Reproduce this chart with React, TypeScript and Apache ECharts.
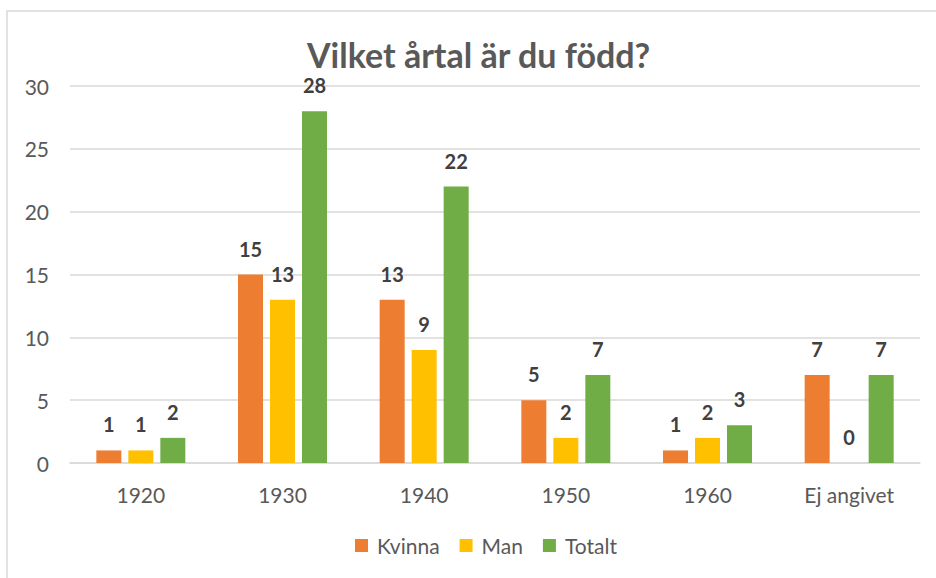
import React, { useEffect, useRef } from "react";
import * as echarts from "echarts";

const categories = ["1920", "1930", "1940", "1950", "1960", "Ej angivet"];
const kvinna = [1, 15, 13, 5, 1, 7];
const man = [1, 13, 9, 2, 2, 0];
const totalt = [2, 28, 22, 7, 3, 7];
const titleText = "Vilket årtal är du född?";

const FONT = "Lato";

export default function App() {
  const ref = useRef<HTMLDivElement>(null);
  useEffect(() => {
    if (!ref.current) return;
    const chart = echarts.init(ref.current, undefined, { renderer: "svg" });
    const label = {
      show: true,
      position: "top",
      distance: 16,
      fontFamily: FONT,
      fontSize: 20,
      fontWeight: "bold",
      color: "#404040",
    };
    const mk = (name: string, data: number[], color: string) => ({
      name,
      type: "bar",
      data,
      barWidth: 25,
      barGap: "28%",
      itemStyle: { color },
      label,
    });
    chart.setOption({
      animation: false,
      backgroundColor: "#ffffff",
      title: {
        text: titleText,
        left: 302,
        top: 32,
        textStyle: { fontFamily: FONT, fontSize: 34, fontWeight: "bold", color: "#595959" },
      },
      legend: {
        bottom: 17,
        left: 350,
        itemWidth: 13,
        itemHeight: 13,
        itemGap: 20,
        icon: "rect",
        textStyle: { fontFamily: FONT, fontSize: 21, color: "#595959", padding: [0, 0, 0, 4] },
        data: ["Kvinna", "Man", "Totalt"],
      },
      graphic: [
        {
          type: "rect",
          shape: { x: 7, y: 11, width: 1200, height: 1000 },
          style: { fill: "none", stroke: "#d9d9d9", lineWidth: 1.5 },
          silent: true,
        },
      ],
      grid: { left: 70, right: 16, top: 86, bottom: 115, containLabel: false },
      xAxis: {
        type: "category",
        data: categories,
        axisLine: { lineStyle: { color: "#d9d9d9", width: 1.5 } },
        axisTick: { show: false },
        axisLabel: { fontFamily: FONT, fontSize: 21, color: "#595959", margin: 21 },
      },
      yAxis: {
        type: "value",
        min: 0,
        max: 30,
        interval: 5,
        axisLine: { show: false },
        axisTick: { show: false },
        splitLine: { lineStyle: { color: "#d9d9d9", width: 1.5 } },
        axisLabel: { fontFamily: FONT, fontSize: 21, color: "#595959", margin: 21 },
      },
      series: [
        mk("Kvinna", kvinna, "#ED7D31"),
        mk("Man", man, "#FFC000"),
        mk("Totalt", totalt, "#70AD47"),
      ],
    });
    return () => chart.dispose();
  }, []);
  return (
    <div
      ref={ref}
      style={{ position: "absolute", left: 0, top: 0, width: 936, height: 578 }}
    />
  );
}
